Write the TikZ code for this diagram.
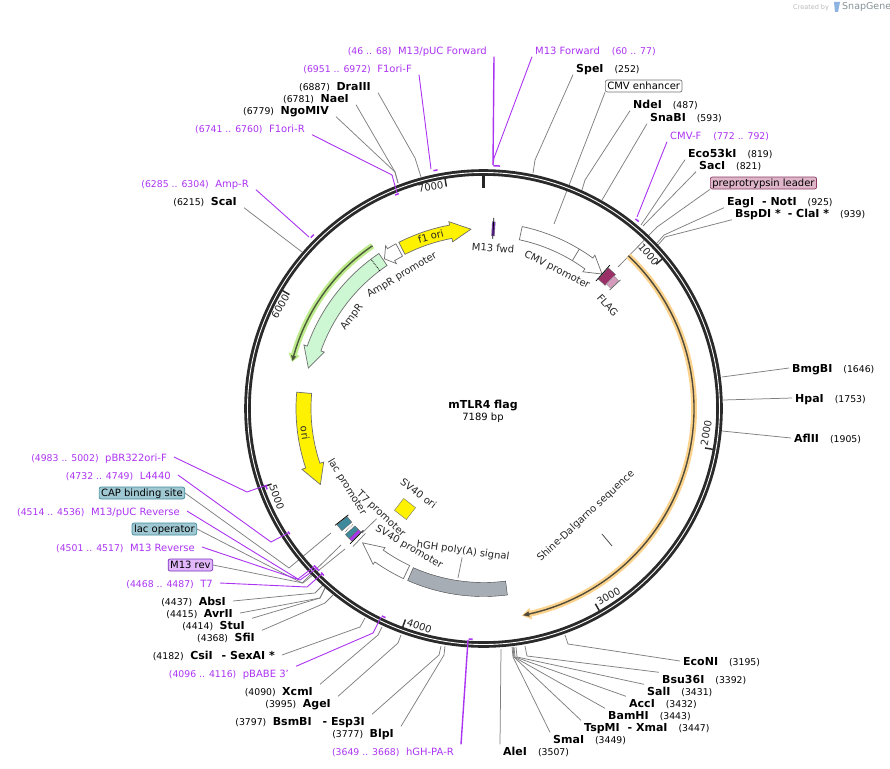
\documentclass[tikz,border=0pt]{standalone}
\usepackage{fontspec}
\setmainfont{DejaVu Sans}
\usepackage{xcolor}
\definecolor{primerc}{HTML}{AB33F2}
\definecolor{cutc}{HTML}{7F7F7F}
\definecolor{ringc}{HTML}{2A2A2A}
\definecolor{edgec}{HTML}{6E6E6E}
\definecolor{tealc}{HTML}{3E8A9C}
\definecolor{tealf}{HTML}{A0C8D3}
\definecolor{ampc}{HTML}{CCF7D2}
\definecolor{halooc}{HTML}{FBD38D}
\definecolor{linooc}{HTML}{4F4A3A}
\definecolor{halogc}{HTML}{BDEB8B}
\definecolor{linogc}{HTML}{4C5A3C}
\definecolor{leadf}{HTML}{DFB6C9}
\definecolor{leadc}{HTML}{8C3A66}
\definecolor{flagc}{HTML}{9A2F68}
\definecolor{flagp}{HTML}{D59ABC}
\definecolor{polyc}{HTML}{A6ADB5}
\definecolor{m13c}{HTML}{7A2FC0}
\newcommand{\posfont}{\fontsize{9.3}{11}\selectfont}
\newcommand{\leftlbl}[2]{{\posfont #1}\hspace{6.5pt}\textbf{\fontsize{11}{11}\selectfont #2}}
\newcommand{\rightlbl}[2]{\textbf{\fontsize{11}{11}\selectfont #1}\hspace{11pt}{\posfont #2}}
\newcommand{\leftpri}[2]{{\posfont #1}\hspace{6.5pt}#2}
\newcommand{\rightpri}[2]{#1\hspace{12pt}{\posfont #2}}
\newcommand{\arcfeat}[7]{\draw[#1] (#2:#6) arc[start angle=#2,end angle=#3,radius=#6] -- ({#3}:{#6+#7}) -- ({#4}:{(#5+#6)/2}) -- ({#3}:{#5-#7}) -- (#3:#5) arc[start angle=#3,end angle=#2,radius=#5] -- cycle;}
\newcommand{\arcblock}[5]{\draw[#1] (#2:#5) arc[start angle=#2,end angle=#3,radius=#5] -- (#3:#4) arc[start angle=#3,end angle=#2,radius=#4] -- cycle;}
\begin{document}
\begin{tikzpicture}[x=1pt,y=1pt,yscale=-1,
  every node/.style={inner ysep=1.5pt,inner xsep=0pt,font=\fontsize{10}{12}\selectfont,text height=7.5pt,text depth=2pt},
  lsite/.style={anchor=east,inner xsep=7pt,text height=9pt,text depth=1pt},
  rsite/.style={anchor=west,inner xsep=3pt,text height=9pt,text depth=1pt},
  lprimer/.style={lsite,text=primerc},
  rprimer/.style={rsite,text=primerc},
  box/.style={rounded corners=2pt,draw,inner xsep=2pt,inner ysep=1.5pt,line width=0.7pt,text height=8pt,text depth=1pt},
  inlabel/.style={text=black!85},
  cut/.style={draw=cutc,line width=0.75pt},
  pcut/.style={draw=primerc,line width=0.9pt},
  ptick/.style={draw=primerc,line width=1.5pt},
  feat/.style={draw=edgec,line width=0.7pt},
  stem/.style={draw=black,line width=0.7pt}]
\useasboundingbox (0,0) rectangle (890,768);

\node (credit) [anchor=west,text=black!28,font=\fontsize{6.5}{8}\selectfont] at (793,7) {Created by};
\node (snapgene) [anchor=west,text=black!30!cyan!20!gray,font=\fontsize{9.5}{10}\selectfont] at (842,7) {SnapGene};
\fill[cyan!55!blue!45] (834,2) -- (840,2) -- (838,12) -- (835,12) -- cycle;

\node (m13puc) [lprimer] at (494,50) {\leftpri{(46 .. 68)}{M13/pUC Forward}};
\node (f1orif) [lprimer] at (419,68) {\leftpri{(6951 .. 6972)}{F1ori-F}};
\node (dra) [lsite] at (378,86) {\leftlbl{(6887)}{DraIII}};
\node (nae) [lsite] at (356,98) {\leftlbl{(6781)}{NaeI}};
\node (ngo) [lsite] at (336,110) {\leftlbl{(6779)}{NgoMIV}};
\node (f1orir) [lprimer] at (312,128) {\leftpri{(6741 .. 6760)}{F1ori-R}};
\node (ampr2) [lprimer] at (256,183) {\leftpri{(6285 .. 6304)}{Amp-R}};
\node (sca) [lsite] at (244,201) {\leftlbl{(6215)}{ScaI}};

\node (m13f) [rprimer] at (532,50) {\rightpri{M13 Forward}{(60 .. 77)}};
\node (spe) [rsite] at (573,68) {\rightlbl{SpeI}{(252)}};
\node (cmvenh) [box,anchor=west,draw=black!55,fill=white] at (605,86) {CMV enhancer};
\node (nde) [rsite] at (630,104) {\rightlbl{NdeI}{(487)}};
\node (sna) [rsite] at (647,117) {\rightlbl{SnaBI}{(593)}};
\node (cmvf) [rprimer] at (667,135) {\rightpri{CMV-F}{(772 .. 792)}};
\node (eco53) [rsite] at (685,153) {\rightlbl{Eco53kI}{(819)}};
\node (sac) [rsite] at (696,165) {\rightlbl{SacI}{(821)}};
\node (prepro) [box,anchor=west,draw=leadc,fill=leadf] at (710,183) {preprotrypsin leader};
\node (eag) [rsite] at (724,201) {\rightlbl{EagI\hspace{8pt}- NotI}{(925)}};
\node (bsp) [rsite] at (732,213) {\rightlbl{BspDI *\hspace{7pt}- ClaI *}{(939)}};

\node (bmg) [rsite] at (789,368) {\rightlbl{BmgBI}{(1646)}};
\node (hpa) [rsite] at (792,398) {\rightlbl{HpaI}{(1753)}};
\node (afl) [rsite] at (791,438) {\rightlbl{AflII}{(1905)}};

\node (econi) [rsite] at (680,661) {\rightlbl{EcoNI}{(3195)}};
\node (bsu) [rsite] at (659,679) {\rightlbl{Bsu36I}{(3392)}};
\node (sal) [rsite] at (644,691) {\rightlbl{SalI}{(3431)}};
\node (acc) [rsite] at (626,703) {\rightlbl{AccI}{(3432)}};
\node (bam) [rsite] at (605,715) {\rightlbl{BamHI}{(3443)}};
\node (tsp) [rsite] at (581,727) {\rightlbl{TspMI\hspace{8pt}- XmaI}{(3447)}};
\node (sma) [rsite] at (550,739) {\rightlbl{SmaI}{(3449)}};
\node (ale) [rsite] at (500,751) {\rightlbl{AleI}{(3507)}};

\node (hghr) [lprimer] at (461,751) {\leftpri{(3649 .. 3668)}{hGH-PA-R}};
\node (blp) [lsite] at (401,733) {\leftlbl{(3777)}{BlpI}};
\node (bsm) [lsite] at (372,721) {\leftlbl{(3797)}{BsmBI\hspace{11pt}- Esp3I}};
\node (age) [lsite] at (338,703) {\leftlbl{(3995)}{AgeI}};
\node (xcm) [lsite] at (320,691) {\leftlbl{(4090)}{XcmI}};
\node (pbabe) [lprimer] at (296,673) {\leftpri{(4096 .. 4116)}{pBABE 3'}};
\node (csi) [lsite] at (282,655) {\leftlbl{(4182)}{CsiI\hspace{9pt}- SexAI *}};
\node (sfi) [lsite] at (262,637) {\leftlbl{(4368)}{SfiI}};
\node (stu) [lsite] at (252,625) {\leftlbl{(4414)}{StuI}};
\node (avr) [lsite] at (240,613) {\leftlbl{(4415)}{AvrII}};
\node (abs) [lsite] at (233,601) {\leftlbl{(4437)}{AbsI}};
\node (t7) [lprimer] at (220,583) {\leftpri{(4468 .. 4487)}{T7}};
\node (m13rev) [box,anchor=east,draw=m13c,fill=primerc!35] at (213,565) {M13 rev};
\node (m13r) [lprimer] at (202,547) {\leftpri{(4501 .. 4517)}{M13 Reverse}};
\node (lacop) [box,anchor=east,draw=tealc,fill=tealf] at (197,529) {lac operator};
\node (m13pucr) [lprimer] at (187,511) {\leftpri{(4514 .. 4536)}{M13/pUC Reverse}};
\node (cap) [box,anchor=east,draw=tealc,fill=tealf] at (185,493) {CAP binding site};
\node (l4440) [lprimer] at (178,475) {\leftpri{(4732 .. 4749)}{L4440}};
\node (pbr) [lprimer] at (174,457) {\leftpri{(4983 .. 5002)}{pBR322ori-F}};

\coordinate (draend) at (421,177);
\coordinate (naeend) at (398,183);
\coordinate (scaend) at (302,252);
\coordinate (speend) at (533,173);
\coordinate (enhend) at (554,224);
\coordinate (ndeend) at (582,190);
\coordinate (snaend) at (602,200);
\coordinate (ecoend) at (641,225);
\coordinate (sacend) at (643,226);
\coordinate (leadend) at (618,267);
\coordinate (eagend) at (657,243);
\coordinate (bspend) at (658,245);
\coordinate (bmgend) at (722,377);
\coordinate (hpaend) at (723,400);
\coordinate (aflend) at (722,431);
\coordinate (econiend) at (565,635);
\coordinate (bsuend) at (525,646);
\coordinate (salend) at (516,647);
\coordinate (accend) at (514,647);
\coordinate (bamend) at (513,647);
\coordinate (smaend) at (512,647);
\coordinate (aleend) at (501,649);
\coordinate (blpend) at (445,646);
\coordinate (bsmend) at (441,646);
\coordinate (ageend) at (401,635);
\coordinate (xcmend) at (382,627);
\coordinate (csiend) at (365,618);
\coordinate (sfiend) at (333,595);
\coordinate (stuend) at (325,588);
\coordinate (absend) at (325,583);
\coordinate (capend) at (331,533);
\coordinate (lacend) at (341,545);
\coordinate (revend) at (345,549);

\draw[cut] (dra.south east) -- (415,158) -- (draend);
\draw[cut] (nae.south east) -- (395,172) -- (naeend);
\draw[cut] (ngo.south east) -- (395,172) -- (naeend);
\draw[cut] (sca.south east) -- (scaend);
\draw[cut] (spe.south west) -- (535,160) -- (speend);
\draw[cut] (cmvenh.south west) -- (enhend);
\draw[cut] (nde.south west) -- (585,180) -- (ndeend);
\draw[cut] (sna.south west) -- (snaend);
\draw[cut] (eco53.south west) -- (ecoend);
\draw[cut] (sac.south west) -- (sacend);
\draw[cut] (prepro.south west) -- (657,227) -- (leadend);
\draw[cut] (eag.south west) -- (664,235) -- (eagend);
\draw[cut] (bsp.south west) -- (665,237) -- (bspend);
\draw[cut] (bmg.west) -- (bmgend);
\draw[cut] (hpa.west) -- (hpaend);
\draw[cut] (afl.west) -- (aflend);
\draw[cut] (econi.west) -- (568,644) -- (econiend);
\draw[cut] (bsu.north west) -- (527,656) -- (bsuend);
\draw[cut] (sal.north west) -- (517,657) -- (salend);
\draw[cut] (acc.north west) -- (515,657) -- (accend);
\draw[cut] (bam.north west) -- (514,657) -- (bamend);
\draw[cut] (tsp.north west) -- (514,657) -- (bamend);
\draw[cut] (sma.north west) -- (513,657) -- (smaend);
\draw[cut] (ale.north west) -- (aleend);
\draw[cut] (blp.north east) -- (444,655) -- (blpend);
\draw[cut] (bsm.north east) -- (439,655) -- (bsmend);
\draw[cut] (age.north east) -- (398,643) -- (ageend);
\draw[cut] (xcm.north east) -- (378,635) -- (xcmend);
\draw[cut] (csi.east) -- (360,627) -- (csiend);
\draw[cut] (sfi.north east) -- (325,603) -- (sfiend);
\draw[cut] (stu.north east) -- (320,598) -- (stuend);
\draw[cut] (avr.east) -- (320,598) -- (stuend);
\draw[cut] (abs.east) -- (315,593) -- (absend);
\draw[cut] (cap.east) -- (289,568) -- (capend);
\draw[cut] (lacop.east) -- (302,583) -- (lacend);
\draw[cut] (m13rev.east) -- (303,583) -- (revend);

\begin{scope}[shift={(483.5,408.5)}]
\draw[ringc,line width=6.6pt] (0,0) circle[radius=236];
\draw[white,line width=0.9pt] (0,0) circle[radius=236];
\draw[black!85,line width=3pt] (-90:233) -- (-90:221);
\foreach \a in {-39.9,10.1,60.2,110.3,160.4,210.4,260.5}
  \draw[ringc,line width=1.5pt] (\a:233) -- (\a:225);

\arcfeat{draw=none,fill=halooc}{-46.5}{77}{79.5}{207.5}{213.5}{3}
\arcfeat{draw=none,fill=linooc}{-46.5}{77.5}{79.2}{209.8}{211.2}{2}
\arcfeat{draw=none,fill=halogc}{235.7}{196}{193.7}{194}{200}{3}
\arcfeat{draw=none,fill=linogc}{235.7}{195.5}{194}{196.3}{197.7}{2}

\arcfeat{feat,fill=yellow}{243}{259.5}{266}{173}{186.5}{3.5}
\arcfeat{feat,fill=white}{242}{239}{236.5}{172.5}{186.5}{3.5}
\arcfeat{feat,fill=ampc}{236}{199.5}{193}{172.5}{187}{3.5}
\draw[black,densely dotted,line width=0.8pt] (233:172.5) -- (233:187);
\arcfeat{feat,fill=yellow}{185}{161.5}{155}{172.5}{187.5}{4}
\arcfeat{feat,fill=white}{115.2}{125.3}{132}{173.5}{188}{3}
\arcblock{draw=black!75,fill=polyc}{113.8}{82.7}{174}{188}
\arcfeat{feat,fill=white}{-78}{-54}{-48.6}{172.5}{186}{3.5}
\draw[edgec,line width=0.7pt] (-59:172.5) -- (-59:186);

\arcblock{draw=black!60,fill=flagc}{-48.4}{-45.4}{173}{188}
\arcblock{draw=black!40,fill=flagp}{-45.4}{-43.4}{175}{186}
\draw[stem] (-48.6:170) -- (-48.6:191);
\draw[stem,black!60] (-43.2:173) -- (-43.2:188);
\arcblock{draw=black!60,fill=m13c}{-87.3}{-86.4}{173}{187}
\draw[stem] (-86.9:170) -- (-86.9:191);

\arcblock{draw=black!60,fill=tealc}{139.2}{141.6}{174}{187}
\draw[stem] (141.8:172) -- (141.8:189);
\draw[black,densely dotted,line width=0.6pt] (138.4:175) -- (138.4:186);
\arcblock{draw=black!60,fill=tealc}{135.9}{137.6}{174}{187}
\arcblock{draw=black!60,fill=primerc}{134.8}{135.9}{174}{187}
\draw[stem] (134.6:171) -- (134.6:190);
\draw[stem,black!55] (133.4:172) -- (133.4:190);
\end{scope}

\node (sv40box) [draw=edgec,fill=yellow,rotate=-38,minimum width=15pt,minimum height=15pt,text height=0pt,text depth=0pt,inner sep=0pt] at (405,509) {};

\coordinate (hghend) at (458,578);
\coordinate (shinetop) at (602,534);
\coordinate (shineend) at (612,546);
\coordinate (t7end) at (362,533);
\node (hghlab) [inlabel,rotate=-8] at (463,551) {hGH poly(A) signal};
\draw[cut] (hghlab.south) -- (hghend);
\draw[draw=black!70,line width=0.8pt] (shinetop) -- (shineend);
\node (t7lab) [inlabel,rotate=-43] at (381,514) {T7 promoter};
\draw[cut] (t7lab.south) -- (t7end);
\node (f1lab) [inlabel,rotate=15] at (431,237) {f1 ori};
\node (ampplab) [inlabel,rotate=31] at (402,275) {AmpR promoter};
\node (amplab) [inlabel,rotate=53] at (352,317) {AmpR};
\node (m13fwd) [inlabel,rotate=-4] at (493,249) {M13 fwd};
\node (cmvlab) [inlabel,rotate=-27] at (557,270) {CMV promoter};
\node (flaglab) [inlabel,rotate=-48] at (607,306) {FLAG};
\node (orilab) [inlabel,rotate=-82] at (304,433) {ori};
\node (laclab) [inlabel,rotate=-58] at (347,487) {lac promoter};
\node (sv40lab) [inlabel,rotate=-30] at (409,547) {SV40 promoter};
\node (orilab2) [inlabel,rotate=-37] at (418,494) {SV40 ori};
\node (shine) [inlabel,rotate=43] at (586,516) {Shine-Dalgarno sequence};
\node (plasmid) [font=\fontsize{11}{12}\selectfont\bfseries] at (483,405.5) {mTLR4 flag};
\node (size) at (483,417.5) {7189 bp};

\node (t7000) [inlabel,rotate=10] at (431,188) {7000};
\node (t1000) [inlabel,rotate=-50] at (648,255) {1000};
\node (t2000) [inlabel,rotate=80] at (707,433) {2000};
\node (t3000) [inlabel,rotate=30] at (609,597) {3000};
\node (t4000) [inlabel,rotate=-20] at (419,627) {4000};
\node (t5000) [inlabel,rotate=-70] at (276,498) {5000};
\node (t6000) [inlabel,rotate=60] at (281,307) {6000};

\coordinate (pucend) at (493,165);
\coordinate (f1fend) at (431,169);
\coordinate (f1rend) at (397,193);
\coordinate (amprend) at (309,237);
\coordinate (cmvfend) at (637,217);
\coordinate (hghrend) at (468,640);
\coordinate (pbabeend) at (381,617);
\coordinate (pbrend) at (267,485);
\coordinate (l44end) at (288,533);
\coordinate (m13pend) at (315,566);
\coordinate (m13rend) at (317,568);
\coordinate (t7pend) at (323,573);

\draw[pcut,line width=1.4pt] (m13puc.south east) -- (pucend);
\draw[pcut] (m13f.south west) -- (494,158) -- (pucend);
\draw[pcut] (f1orif.south east) -- (f1fend);
\draw[pcut] (f1orir.south east) -- (392,175) -- (f1rend);
\draw[pcut] (ampr2.south east) -- (amprend);
\draw[pcut] (cmvf.south west) -- (cmvfend);
\draw[pcut,line width=1.4pt] (hghr.north east) -- (hghrend);
\draw[pcut] (pbabe.north east) -- (373,633) -- (pbabeend);
\draw[pcut] (pbr.east) -- (247,492) -- (pbrend);
\draw[pcut] (l4440.east) -- (271,542) -- (l44end);
\draw[pcut] (m13pucr.east) -- (298,579) -- (m13pend);
\draw[pcut] (m13r.east) -- (300,580) -- (m13rend);
\draw[pcut] (t7.east) -- (307,587) -- (t7pend);

\begin{scope}[shift={(483.5,408.5)}]
\draw[ptick] (-87.7:243) arc[start angle=-87.7,end angle=-86.1,radius=243];
\draw[ptick] (-51.3:243) arc[start angle=-51.3,end angle=-50.3,radius=243];
\draw[ptick] (258.1:243) arc[start angle=258.1,end angle=259.1,radius=243];
\draw[ptick] (224.7:243) arc[start angle=224.7,end angle=225.7,radius=243];
\draw[ptick] (247.5:231) arc[start angle=247.5,end angle=248.5,radius=231];
\draw[ptick] (159.5:231) arc[start angle=159.5,end angle=160.5,radius=231];
\draw[ptick] (147:231) arc[start angle=147,end angle=147.8,radius=231];
\draw[ptick] (135.4:231) arc[start angle=135.4,end angle=137.2,radius=231];
\draw[ptick] (133.7:231) arc[start angle=133.7,end angle=134.7,radius=231];
\draw[ptick] (115.1:231) arc[start angle=115.1,end angle=116.1,radius=231];
\draw[ptick] (92.7:231) arc[start angle=92.7,end angle=93.7,radius=231];
\end{scope}
\end{tikzpicture}
\end{document}
